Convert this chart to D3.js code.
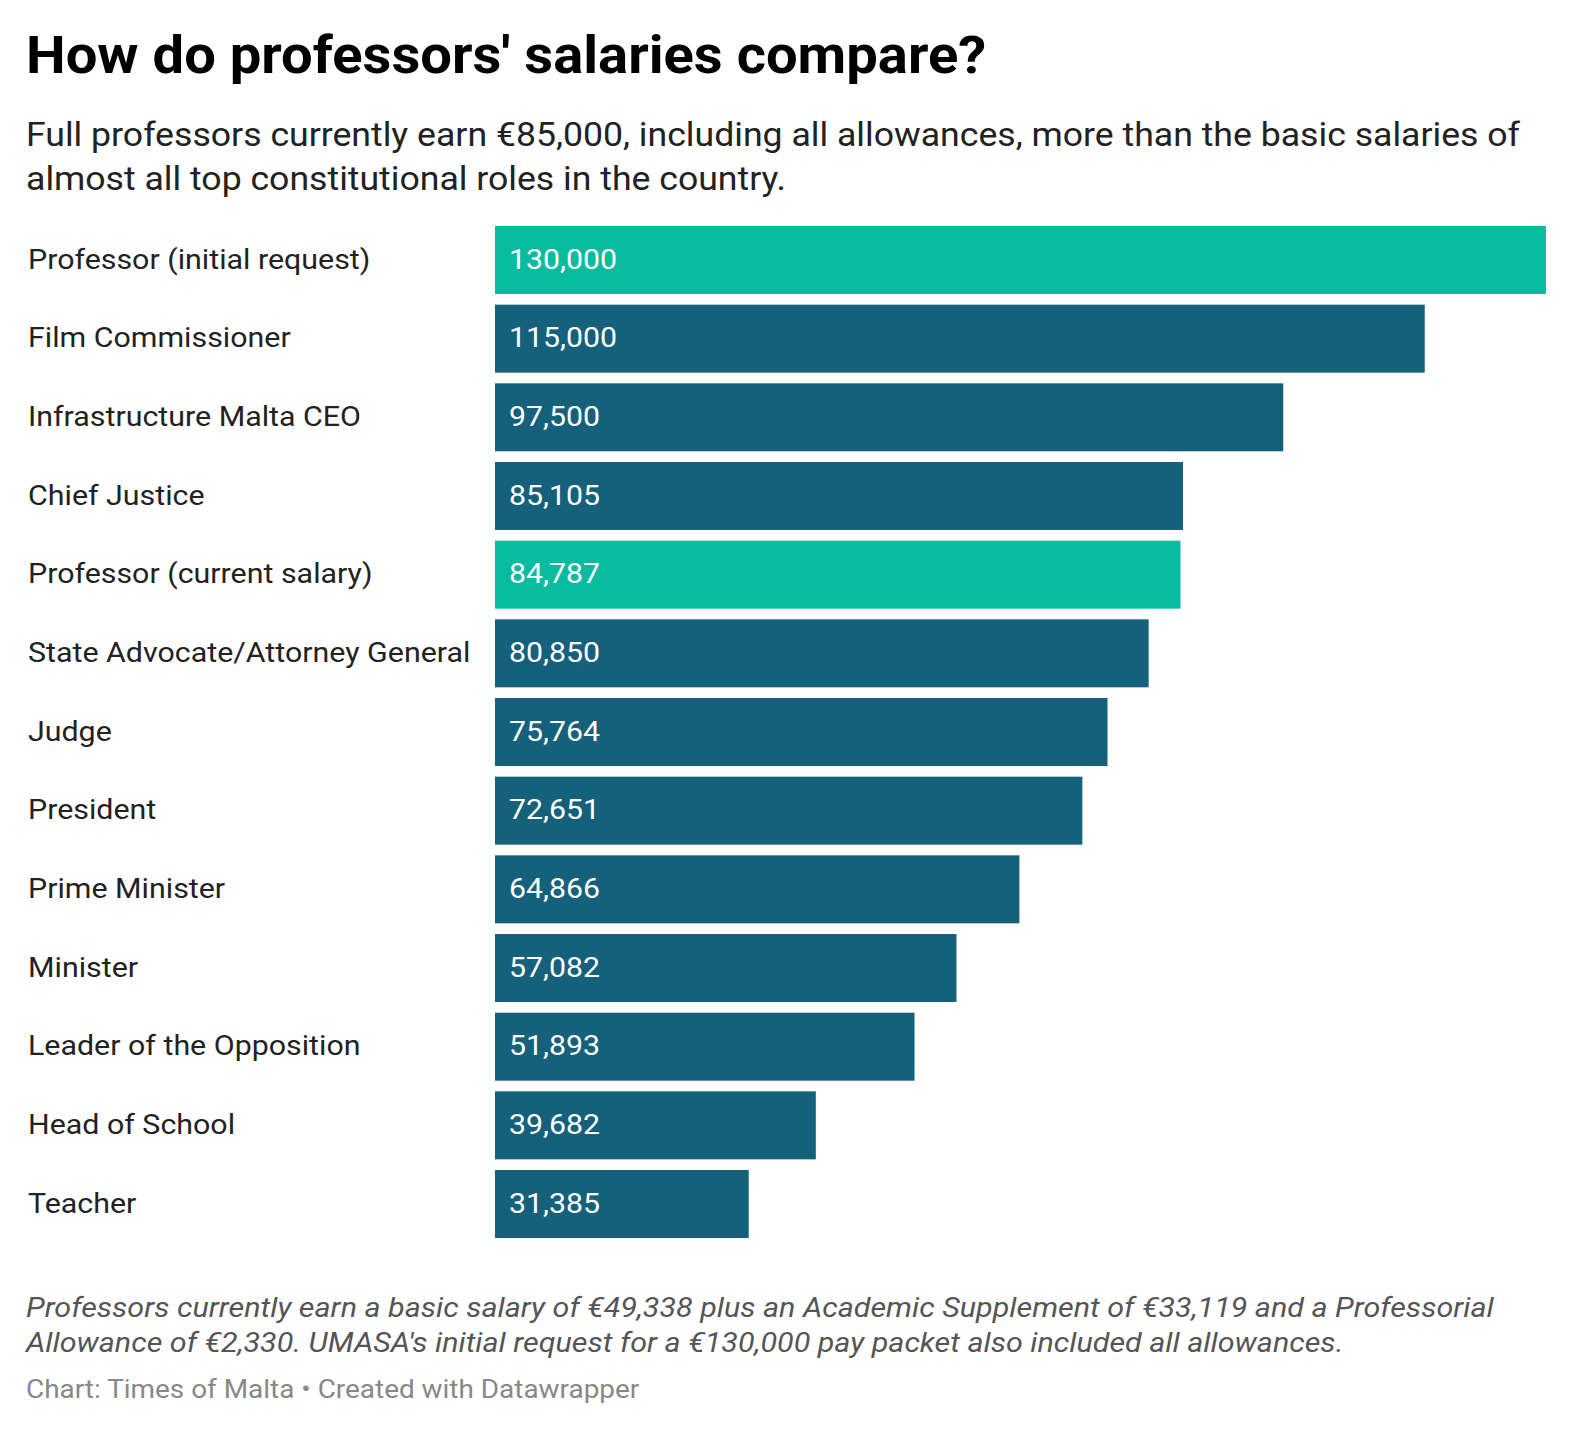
<!DOCTYPE html>
<html><head><meta charset="utf-8">
<script src="https://cdn.jsdelivr.net/npm/d3@7"></script>
<style>body{margin:0;background:#fff;}svg{display:block;font-family:Roboto,sans-serif;}</style>
</head><body>
<svg id="c" width="1574" height="1432"></svg>
<script>
const categories = ["Professor (initial request)","Film Commissioner","Infrastructure Malta CEO","Chief Justice","Professor (current salary)","State Advocate/Attorney General","Judge","President","Prime Minister","Minister","Leader of the Opposition","Head of School","Teacher"];
const values = [130000,115000,97500,85105,84787,80850,75764,72651,64866,57082,51893,39682,31385];
const highlighted = ["Professor (initial request)","Professor (current salary)"];
const titleText = "How do professors' salaries compare?";
const subtitleLines = ["Full professors currently earn €85,000, including all allowances, more than the basic salaries of","almost all top constitutional roles in the country."];
const noteLines = ["Professors currently earn a basic salary of €49,338 plus an Academic Supplement of €33,119 and a Professorial","Allowance of €2,330. UMASA's initial request for a €130,000 pay packet also included all allowances."];
const sourceText = "Chart: Times of Malta • Created with Datawrapper";

const SX = 1.08; // horizontal text stretch seen in the reference
const tr = (x,y,s=SX)=>`translate(${x},${y}) scale(${s},1)`;

const svg = d3.select("#c");
svg.append("text").attr("transform",tr(26,73)).attr("font-size",52).attr("font-weight",700).attr("fill","#000").text(titleText);
svg.append("g").selectAll("text").data(subtitleLines).join("text")
  .attr("transform",(d,i)=>tr(26,146+i*44)).attr("font-size",33).attr("fill","#222").text(d=>d);

const x = d3.scaleLinear().domain([0,130000]).range([495,1546]);
const y = d3.scaleBand().domain(categories).range([226,1238]).paddingInner(0.136).paddingOuter(0);

const g = svg.append("g");
g.selectAll("rect").data(categories).join("rect")
  .attr("x",x(0)).attr("y",d=>y(d)).attr("height",y.bandwidth())
  .attr("width",(d,i)=>x(values[i])-x(0))
  .attr("fill",d=>highlighted.includes(d)?"#09bb9f":"#15607a");
g.selectAll("text.lab").data(categories).join("text").attr("class","lab")
  .attr("transform",d=>tr(28,y(d)+y.bandwidth()/2-1,1.085)).attr("dy","0.35em")
  .attr("font-size",28).attr("fill","#222").text(d=>d);
g.selectAll("text.val").data(categories).join("text").attr("class","val")
  .attr("transform",d=>tr(x(0)+14,y(d)+y.bandwidth()/2-1)).attr("dy","0.35em")
  .attr("font-size",28).attr("fill","#fff").text((d,i)=>d3.format(",")(values[i]));

svg.append("g").selectAll("text").data(noteLines).join("text")
  .attr("transform",(d,i)=>tr(26,1317+i*35,1.089)).attr("font-size",28).attr("font-style","italic").attr("fill","#555").text(d=>d);
svg.append("text").attr("transform",tr(26,1398,1.074)).attr("font-size",26).attr("fill","#888").text(sourceText);
</script>
</body></html>
